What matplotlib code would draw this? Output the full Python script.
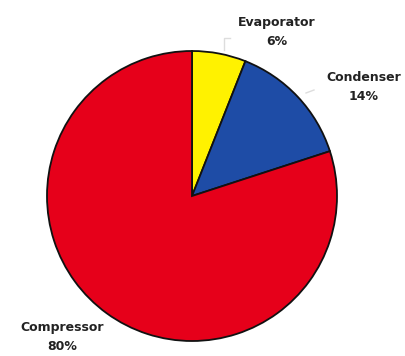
import matplotlib
matplotlib.use("Agg")
import matplotlib.pyplot as plt

# Share of the total for each component
components = ["Evaporator", "Condenser", "Compressor"]
shares = [6, 14, 80]
colours = ["#FFF200", "#1E4CA6", "#E6001A"]

# Label placement in pixel coordinates (x, y from the top)
label_pos = {"Evaporator": (277, 32), "Condenser": (364, 87), "Compressor": (62, 337)}

W, H = 406, 356
fig = plt.figure(figsize=(W / 100, H / 100), dpi=100)
ax = fig.add_axes([0, 0, 1, 1])

ax.pie(shares, colors=colours, startangle=90, counterclock=False,
       center=(192, H - 196), radius=145,
       wedgeprops=dict(edgecolor="#111111", linewidth=1.3))

for name, val in zip(components, shares):
    x, y = label_pos[name]
    ax.text(x, H - y, f"{name}\n{val}%", ha="center", va="center",
            fontsize=9, fontweight="bold", color="#222222",
            family="DejaVu Sans", linespacing=1.6)

# faint leader lines
ax.plot([224, 224, 230], [H - 50, H - 38, H - 38], color="#dddddd", lw=1)
ax.plot([306, 314], [H - 93, H - 90], color="#dddddd", lw=1)

ax.set_xlim(0, W)
ax.set_ylim(0, H)
ax.set_aspect("equal")
ax.axis("off")

fig.savefig("out.png", dpi=100)
